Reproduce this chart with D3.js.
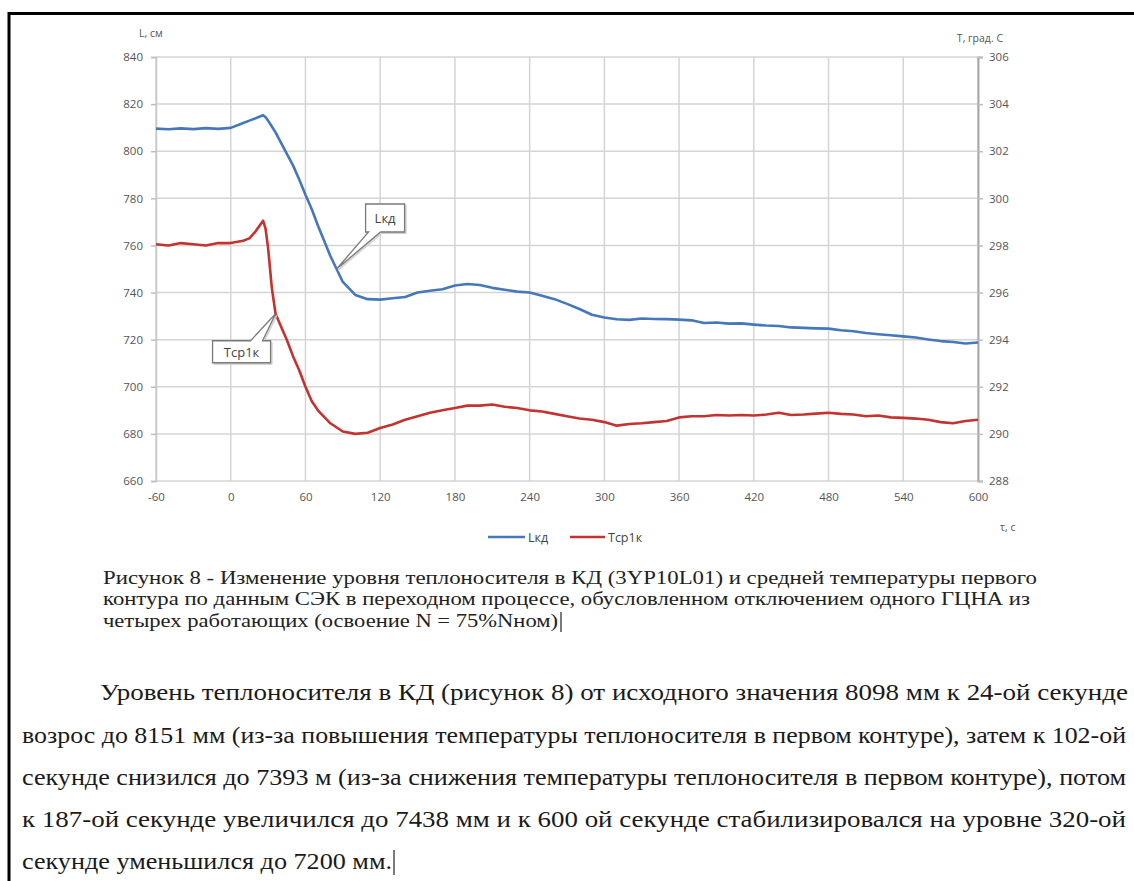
<!DOCTYPE html>
<html>
<head>
<meta charset="utf-8">
<script src="https://cdn.jsdelivr.net/npm/d3@7"></script>
<style>
  body { margin: 0; background: #fff; }
  svg { display: block; }
</style>
</head>
<body>
<div id="graph"></div>
<script>
// time, s
var times = [-60, -50, -40, -30, -20, -10, 0, 10, 15, 20, 26, 28, 30, 33, 36, 40, 45, 50, 55,
  60, 65, 70, 80, 90, 100, 110, 120, 130, 140, 150, 160, 170, 180, 190, 200, 210, 220, 230,
  240, 250, 260, 270, 280, 290, 300, 310, 320, 330, 340, 350, 360, 370, 380, 390, 400, 410,
  420, 430, 440, 450, 460, 470, 480, 490, 500, 510, 520, 530, 540, 550, 560, 570, 580, 590, 600];

// level in pressurizer, cm (left axis)
var levelKD = [809.6, 809.3, 809.7, 809.4, 809.8, 809.5, 809.9, 812.0, 813.0, 814.0, 815.3, 814.4, 813.0, 810.5, 808.0, 804.0, 799.0, 794.0, 788.0,
  781.5, 775.5, 768.5, 755.5, 744.5, 739.0, 737.2, 737.0, 737.6, 738.1, 740.0, 740.8, 741.4, 743.0, 743.6, 743.2, 742.0, 741.2, 740.4,
  740.0, 738.6, 737.2, 735.2, 733.0, 730.6, 729.4, 728.7, 728.4, 729.0, 728.8, 728.7, 728.5, 728.2, 727.1, 727.3, 726.8, 726.9,
  726.4, 726.0, 725.8, 725.2, 725.0, 724.8, 724.7, 724.0, 723.6, 722.8, 722.3, 721.9, 721.4, 720.9, 720.1, 719.4, 719.0, 718.4, 718.8];

// mean primary circuit temperature, deg C (right axis)
var tempAvg = [298.05, 298.0, 298.1, 298.05, 298.0, 298.1, 298.1, 298.2, 298.3, 298.6, 299.05, 298.7, 297.9, 296.2, 295.1, 294.6, 294.0, 293.3, 292.7,
  292.0, 291.4, 291.0, 290.45, 290.1, 290.0, 290.05, 290.25, 290.4, 290.6, 290.75, 290.9, 291.0, 291.1, 291.2, 291.2, 291.25, 291.15, 291.1,
  291.0, 290.95, 290.85, 290.75, 290.65, 290.6, 290.5, 290.35, 290.42, 290.45, 290.5, 290.55, 290.7, 290.75, 290.75, 290.8, 290.78, 290.8,
  290.78, 290.82, 290.9, 290.8, 290.82, 290.86, 290.9, 290.85, 290.82, 290.75, 290.78, 290.7, 290.68, 290.65, 290.6, 290.5, 290.45, 290.55, 290.6];

var xTicks = d3.range(-60, 601, 60);
var yLeftTicks = d3.range(660, 841, 20);
var yRightTicks = d3.range(288, 307, 2);

var seriesNames = ['Lкд', 'Тср1к'];
var seriesColors = ['#4577ba', '#c3332f'];

var captionLines = [
  'Рисунок 8 - Изменение уровня теплоносителя в КД (3YP10L01) и средней температуры первого',
  'контура по данным СЭК в переходном процессе, обусловленном отключением одного ГЦНА из',
  'четырех работающих (освоение N = 75%Nном)'
];
var paragraphLines = [
  'Уровень теплоносителя в КД (рисунок 8) от исходного значения 8098 мм к 24-ой секунде',
  'возрос до 8151 мм (из-за повышения температуры теплоносителя в первом контуре), затем к 102-ой',
  'секунде снизился до 7393 м (из-за снижения температуры теплоносителя в первом контуре), потом',
  'к 187-ой секунде увеличился до 7438 мм и к 600 ой секунде стабилизировался на уровне 320-ой',
  'секунде уменьшился до 7200 мм.'
];

window.onload = start;

function start() {
  var width = 1134, height = 881;
  var left = 156, right = 978, top = 57, bottom = 481;

  var svg = d3.select('#graph').append('svg')
    .attr('width', width)
    .attr('height', height);

  // page frame (top and left edge of the scanned page)
  svg.append('line').attr('x1', 8).attr('x2', width).attr('y1', 13.5).attr('y2', 13.5)
    .attr('stroke', '#000').attr('stroke-width', 3);
  svg.append('line').attr('x1', 9).attr('x2', 9).attr('y1', 12).attr('y2', height)
    .attr('stroke', '#000').attr('stroke-width', 3);

  var x = d3.scaleLinear().domain([-60, 600]).range([left, right]);
  var yL = d3.scaleLinear().domain([660, 840]).range([bottom, top]);
  var yR = d3.scaleLinear().domain([288, 306]).range([bottom, top]);

  var tickFont = '"Open Sans", "DejaVu Sans", sans-serif';
  var plain = d => String(d);

  // grid
  var grid = svg.append('g').attr('stroke', '#d4d4d4').attr('stroke-width', 1.5);
  grid.selectAll('.gx').data(xTicks).enter().append('line')
    .attr('x1', d => x(d)).attr('x2', d => x(d)).attr('y1', top).attr('y2', bottom);
  grid.selectAll('.gy').data(yLeftTicks).enter().append('line')
    .attr('x1', left).attr('x2', right).attr('y1', d => yL(d)).attr('y2', d => yL(d));

  // axes
  var axL = svg.append('g').attr('transform', 'translate(' + left + ',0)')
    .call(d3.axisLeft(yL).tickValues(yLeftTicks).tickFormat(plain).tickSize(5).tickPadding(8));
  var axR = svg.append('g').attr('transform', 'translate(' + right + ',0)')
    .call(d3.axisRight(yR).tickValues(yRightTicks).tickFormat(plain).tickSize(5).tickPadding(6));
  var axB = svg.append('g').attr('transform', 'translate(0,' + bottom + ')')
    .call(d3.axisBottom(x).tickValues(xTicks).tickFormat(plain).tickSize(0).tickPadding(12));

  [axL, axR, axB].forEach(function(a) {
    a.selectAll('text').attr('fill', '#555').style('font-family', tickFont).style('font-size', '11.5px');
    a.selectAll('line').attr('stroke', '#bdbdbd').attr('stroke-width', 1.5);
    a.select('.domain').attr('stroke', '#c8c8c8').attr('stroke-width', 1.5);
  });
  axR.select('.domain').attr('stroke', '#a8a8a8').attr('stroke-width', 2);
  axB.select('.domain').remove();

  // axis titles
  svg.append('text').attr('x', 139).attr('y', 37).text('L, см')
    .attr('fill', '#555').style('font-family', tickFont).style('font-size', '10.5px');
  svg.append('text').attr('x', 1003).attr('y', 42).attr('text-anchor', 'end').text('Т, град. С')
    .attr('fill', '#555').style('font-family', tickFont).style('font-size', '10.5px');
  svg.append('text').attr('x', 1000).attr('y', 531).text('τ, с')
    .attr('fill', '#555').style('font-family', tickFont).style('font-size', '10.5px');

  // series
  var levelPts = times.map((t, i) => [x(t), yL(levelKD[i])]);
  var tempPts = times.map((t, i) => [x(t), yR(tempAvg[i])]);
  var line = d3.line();
  svg.append('path').attr('d', line(levelPts)).attr('fill', 'none')
    .attr('stroke', seriesColors[0]).attr('stroke-width', 2.6).attr('stroke-linejoin', 'round');
  svg.append('path').attr('d', line(tempPts)).attr('fill', 'none')
    .attr('stroke', seriesColors[1]).attr('stroke-width', 2.6).attr('stroke-linejoin', 'round');

  // callouts
  function valueAt(arr, t) {
    var i = d3.bisectLeft(times, t);
    if (i <= 0) return arr[0];
    var t0 = times[i - 1], t1 = times[i];
    return arr[i - 1] + (arr[i] - arr[i - 1]) * (t - t0) / (t1 - t0);
  }
  var tipL = [x(85), yL(valueAt(levelKD, 85))];
  var tipT = [x(36), yR(valueAt(tempAvg, 36))];

  function callout(tip, bx, by, bw, bh, tail, label) {
    // tail: [x1, x2, onBottom]
    var p = d3.path();
    var x0 = tip[0] + bx, y0 = tip[1] + by;
    if (tail[2]) {
      p.moveTo(x0, y0); p.lineTo(x0 + bw, y0); p.lineTo(x0 + bw, y0 + bh);
      p.lineTo(x0 + tail[1], y0 + bh); p.lineTo(tip[0], tip[1]); p.lineTo(x0 + tail[0], y0 + bh);
      p.lineTo(x0, y0 + bh); p.closePath();
    } else {
      p.moveTo(x0, y0); p.lineTo(x0 + tail[0], y0); p.lineTo(tip[0], tip[1]); p.lineTo(x0 + tail[1], y0);
      p.lineTo(x0 + bw, y0); p.lineTo(x0 + bw, y0 + bh); p.lineTo(x0, y0 + bh); p.closePath();
    }
    svg.append('path').attr('d', p.toString()).attr('transform', 'translate(1.5,1.5)')
      .attr('fill', '#ddd').attr('stroke', '#ccc');
    svg.append('path').attr('d', p.toString()).attr('fill', '#fff')
      .attr('stroke', '#7a7a7a').attr('stroke-width', 1.3);
    svg.append('text').attr('x', x0 + bw / 2).attr('y', y0 + bh / 2 + 5).attr('text-anchor', 'middle')
      .text(label).attr('fill', '#444').style('font-family', tickFont).style('font-size', '13px');
  }
  callout(tipL, 29, -65, 39, 28, [3, 15, true], seriesNames[0]);
  callout(tipT, -63, 27, 58, 22, [38, 50, false], seriesNames[1]);

  // legend
  var legend = svg.append('g').style('font-family', tickFont).style('font-size', '12.5px');
  var legendX = [488, 570];
  var legendW = [37, 35];
  seriesNames.forEach(function(name, i) {
    legend.append('line').attr('x1', legendX[i]).attr('x2', legendX[i] + legendW[i])
      .attr('y1', 537).attr('y2', 537).attr('stroke', seriesColors[i]).attr('stroke-width', 2.6);
    legend.append('text').attr('x', legendX[i] + legendW[i] + 3).attr('y', 542)
      .text(name).attr('fill', '#444');
  });

  // caption
  var serif = '"Liberation Serif", "Times New Roman", serif';
  var captionY = [584, 605, 627];
  var captionW = [934, 927, 455];
  captionLines.forEach(function(s, i) {
    svg.append('text').attr('x', 103).attr('y', captionY[i]).text(s)
      .attr('textLength', captionW[i]).attr('lengthAdjust', 'spacingAndGlyphs')
      .attr('fill', '#222').style('font-family', serif).style('font-size', '19px');
  });
  svg.append('line').attr('x1', 561).attr('x2', 561).attr('y1', 612).attr('y2', 632)
    .attr('stroke', '#222').attr('stroke-width', 1.2);

  // paragraph
  var paraY = [700, 743, 785, 827, 869];
  var paraX = [100, 22, 22, 22, 22];
  var paraW = [1028, 1104, 1104, 1104, 370];
  paragraphLines.forEach(function(s, i) {
    svg.append('text').attr('x', paraX[i]).attr('y', paraY[i]).text(s)
      .attr('textLength', paraW[i]).attr('lengthAdjust', 'spacingAndGlyphs')
      .attr('fill', '#1a1a1a').style('font-family', serif).style('font-size', '24px');
  });
  svg.append('line').attr('x1', 394).attr('x2', 394).attr('y1', 850).attr('y2', 875)
    .attr('stroke', '#222').attr('stroke-width', 1.2);
}
</script>
</body>
</html>
